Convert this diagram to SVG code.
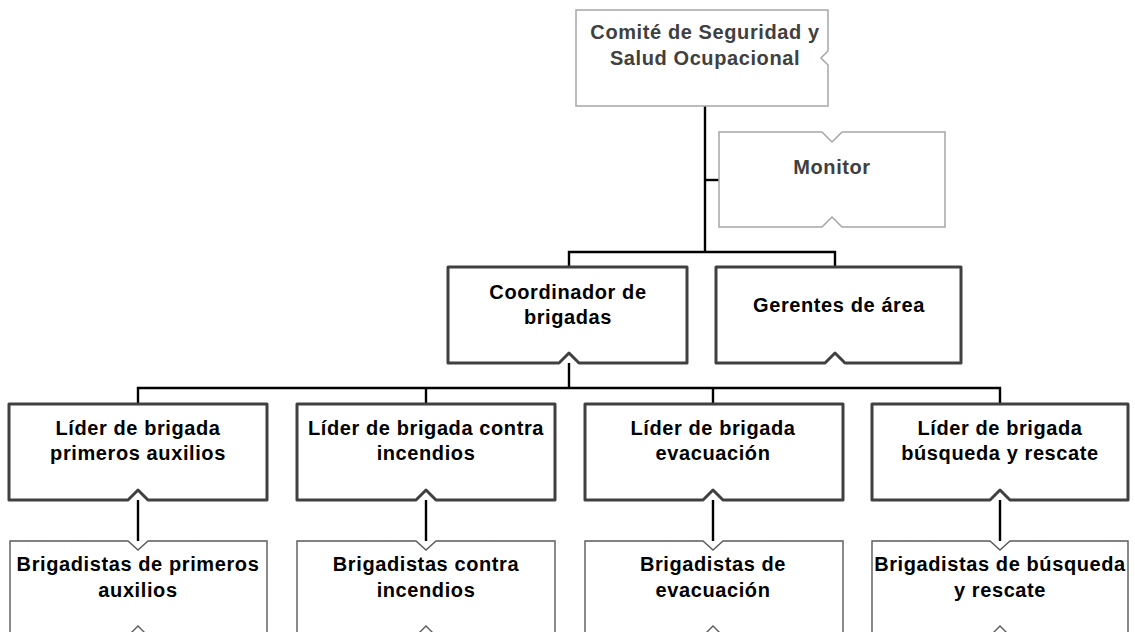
<svg xmlns="http://www.w3.org/2000/svg" width="1135" height="632" viewBox="0 0 1135 632">
  <style>
    .thin { fill: #ffffff; stroke: #a6a6a6; stroke-width: 1.5; }
    .brig { fill: #ffffff; stroke: #595959; stroke-width: 1.4; }
    .thick { fill: #ffffff; stroke: #404040; stroke-width: 3; stroke-linejoin: round; }
    .conn { fill: none; stroke: #000000; stroke-width: 2.4; }
    text { font-family: "Liberation Sans", Arial, sans-serif; font-weight: bold; font-size: 20px; letter-spacing: 0.6px; text-anchor: middle; fill: #000000; }
    .grey { fill: #404040; }
  </style>
  <rect width="1135" height="632" fill="#ffffff"/>
  <g id="connectors">
    <path class="conn" d="M705,106 V252"/>
    <path class="conn" d="M705,180 H719"/>
    <path class="conn" d="M569,267 V252 H835 V267"/>
    <path class="conn" d="M569,363 V388"/>
    <path class="conn" d="M138,404 V388 H1000 V404"/>
    <path class="conn" d="M426,388 V404"/>
    <path class="conn" d="M713,388 V404"/>
    <path class="conn" d="M138,500 V541"/>
    <path class="conn" d="M426,500 V541"/>
    <path class="conn" d="M713,500 V541"/>
    <path class="conn" d="M1000,500 V541"/>
  </g>
  <g id="comite">
    <path class="thin" d="M576,10 H828 V51 L821,58 L828,65 V106 H576 Z"/>
    <text class="grey" x="705" y="39">Comité de Seguridad y</text>
    <text class="grey" x="705" y="65">Salud Ocupacional</text>
  </g>
  <g id="monitor">
    <path class="thin" d="M719,132 H822 L832,142 L842,132 H945 V227 H842 L832,217 L822,227 H719 Z"/>
    <text class="grey" x="832" y="174">Monitor</text>
  </g>
  <g id="coordinador">
    <path class="thick" d="M448,267 H687 V363 H579 L569,353 L559,363 H448 Z"/>
    <text x="568" y="299">Coordinador de</text>
    <text x="568" y="324">brigadas</text>
  </g>
  <g id="gerentes">
    <path class="thick" d="M716,267 H961 V363 H845 L835,353 L825,363 H716 Z"/>
    <text x="839" y="312">Gerentes de área</text>
  </g>
  <g id="lider-primeros">
    <path class="thick" d="M9,404 H267 V500 H148 L138,490 L128,500 H9 Z"/>
    <text x="138" y="435">Líder de brigada</text>
    <text x="138" y="460">primeros auxilios</text>
  </g>
  <g id="lider-incendios">
    <path class="thick" d="M297,404 H555 V500 H436 L426,490 L416,500 H297 Z"/>
    <text x="426" y="435">Líder de brigada contra</text>
    <text x="426" y="460">incendios</text>
  </g>
  <g id="lider-evacuacion">
    <path class="thick" d="M585,404 H843 V500 H723 L713,490 L703,500 H585 Z"/>
    <text x="713" y="435">Líder de brigada</text>
    <text x="713" y="460">evacuación</text>
  </g>
  <g id="lider-busqueda">
    <path class="thick" d="M872,404 H1128 V500 H1010 L1000,490 L990,500 H872 Z"/>
    <text x="1000" y="435">Líder de brigada</text>
    <text x="1000" y="460">búsqueda y rescate</text>
  </g>
  <g id="brig-primeros">
    <path class="brig" d="M10,541 H128 L138,550 L148,541 H267 V636 H148 L138,626 L128,636 H10 Z"/>
    <text x="138" y="571">Brigadistas de primeros</text>
    <text x="138" y="597">auxilios</text>
  </g>
  <g id="brig-incendios">
    <path class="brig" d="M297,541 H416 L426,550 L436,541 H555 V636 H436 L426,626 L416,636 H297 Z"/>
    <text x="426" y="571">Brigadistas contra</text>
    <text x="426" y="597">incendios</text>
  </g>
  <g id="brig-evacuacion">
    <path class="brig" d="M585,541 H703 L713,550 L723,541 H843 V636 H723 L713,626 L703,636 H585 Z"/>
    <text x="713" y="571">Brigadistas de</text>
    <text x="713" y="597">evacuación</text>
  </g>
  <g id="brig-busqueda">
    <path class="brig" d="M872,541 H990 L1000,550 L1010,541 H1128 V636 H1010 L1000,626 L990,636 H872 Z"/>
    <text x="1000" y="571">Brigadistas de búsqueda</text>
    <text x="1000" y="597">y rescate</text>
  </g>
</svg>
